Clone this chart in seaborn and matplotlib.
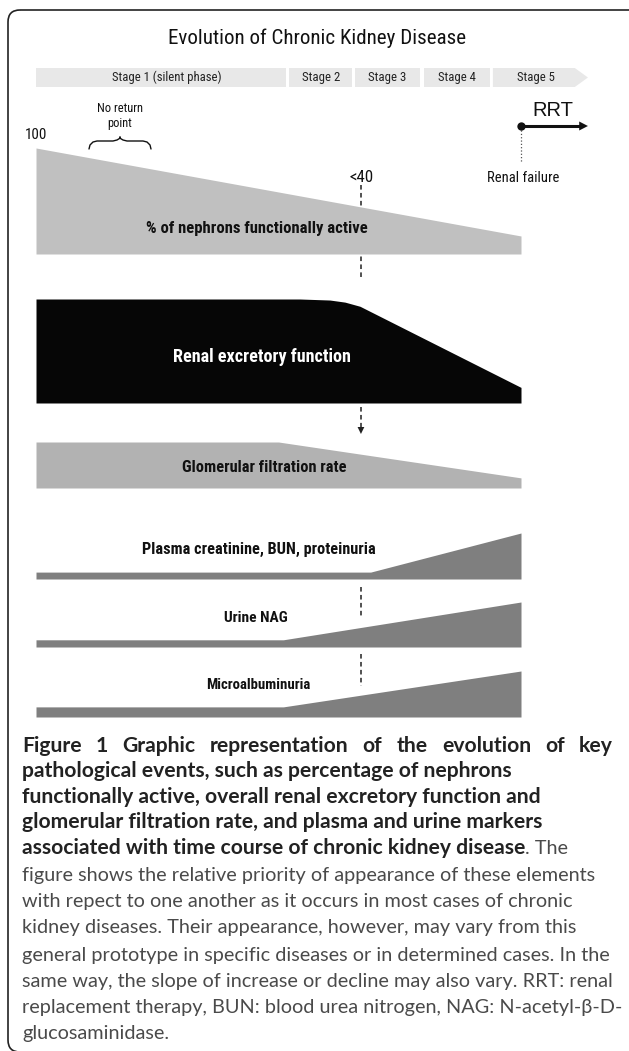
import numpy as np
import matplotlib
matplotlib.use("Agg")
import matplotlib.pyplot as plt
import seaborn as sns
from matplotlib import font_manager
from matplotlib.patches import FancyBboxPatch

# progression axis: 0 = onset, 100 = renal failure
stage_names = ["Stage 1 (silent phase)", "Stage 2", "Stage 3", "Stage 4", "Stage 5"]
stage_start = [0, 52.2, 65.8, 80.0, 94.2]
stage_end = [51.5, 65.2, 79.2, 93.6, 111.1]
stage_tip = 113.8

band_names = ["% of nephrons functionally active", "Renal excretory function",
              "Glomerular filtration rate", "Plasma creatinine, BUN, proteinuria",
              "Urine NAG", "Microalbuminuria"]
nephron_t = [0, 100]
nephron_level = [100, 17]
excretory_t = [0, 54.4, 60.6, 63.7, 66.8, 100]
excretory_level = [100, 100, 99, 97, 93, 15]
gfr_t = [0, 50, 100]
gfr_level = [100, 100, 22]
creatinine_t = [0, 69, 100]
creatinine_level = [15, 15, 100]
nag_t = [0, 51, 100]
nag_level = [16, 16, 100]
micro_t = [0, 51, 100]
micro_level = [22, 22, 100]

threshold_t = 67      # "<40" marker
failure_t = 100       # renal failure / start of RRT
rrt_end_t = 113.8

caption_bold = ["Figure 1 Graphic representation of the evolution of key",
                "pathological events, such as percentage of nephrons",
                "functionally active, overall renal excretory function and",
                "glomerular filtration rate, and plasma and urine markers",
                "associated with time course of chronic kidney disease"]
caption_rest = [". The",
                "figure shows the relative priority of appearance of these elements",
                "with repect to one another as it occurs in most cases of chronic",
                "kidney diseases. Their appearance, however, may vary from this",
                "general prototype in specific diseases or in determined cases. In the",
                "same way, the slope of increase or decline may also vary. RRT: renal",
                "replacement therapy, BUN: blood urea nitrogen, NAG: N-acetyl-\u03b2-D-",
                "glucosaminidase."]

# layout in pixels
W, H = 629, 1051
T0, T1 = 36, 521
band_box = [(148, 254), (299, 403), (442, 488), (533, 579), (602, 647), (671, 717)]
band_colors = ["#c0c0c0", "#060606", "#b2b2b2", "#7f7f7f", "#7f7f7f", "#7f7f7f"]
band_label_xy = [(257, 228), (262, 357), (264, 467), (259, 549), (256, 618), (258, 685)]
band_label_w = [222, 179, 164, 233, 64, 104]

sns.set_theme(style="white")
plt.rcParams["font.family"] = ["Liberation Sans", "DejaVu Sans"]

# the diagram uses a narrow sans; take the best one that is installed
fonts = font_manager.fontManager.ttflist
names = {f.name for f in fonts}
narrow_kw = {"family": "Liberation Sans", "stretch": "normal"}
for cand in ["Liberation Sans Narrow", "Arial Narrow", "Roboto Condensed",
             "Open Sans Condensed", "Noto Sans Condensed"]:
    if cand in names:
        narrow_kw = {"family": cand, "stretch": "normal"}
        break
else:
    for fam in ["Liberation Sans", "Roboto", "Noto Sans", "Open Sans", "DejaVu Sans"]:
        if any(f.name == fam and f.stretch in ("condensed", "semi-condensed") for f in fonts):
            narrow_kw = {"family": fam, "stretch": "condensed"}
            break

fig = plt.figure(figsize=(W / 100, H / 100), dpi=100)
fig.patch.set_facecolor("white")
renderer = fig.canvas.get_renderer()

# timeline layer (x in progression units, y in pixels)
tl = fig.add_axes([T0 / W, 0, (W - T0) / W, 1], zorder=1)
tl.set_xlim(0, 100 * (W - T0) / (T1 - T0))
tl.set_ylim(H, 0)
tl.axis("off")

# stage ribbon
for i, name in enumerate(stage_names):
    x0, x1 = stage_start[i], stage_end[i]
    if i == len(stage_names) - 1:
        tl.fill([x0, x1, stage_tip, x1, x0], [68, 68, 77.5, 87, 87], color="#e8e8e8", lw=0)
    else:
        tl.fill([x0, x1, x1, x0], [68, 68, 87, 87], color="#e8e8e8", lw=0)

# dashed threshold line
for y0, y1 in [(185, 280), (407, 428), (587, 617), (654, 686)]:
    sns.lineplot(x=[threshold_t, threshold_t], y=[y0, y1], estimator=None, sort=False,
                 ax=tl, color="#222222", lw=1.1, dashes=False, linestyle=(0, (3, 2.2)))
tl.fill([threshold_t - 0.7, threshold_t + 0.7, threshold_t], [427, 427, 434], color="#222222", lw=0)

# RRT arrow
sns.lineplot(x=[failure_t, rrt_end_t - 1.6], y=[126, 126], estimator=None, sort=False,
             ax=tl, color="#111111", lw=2.2)
tl.fill([rrt_end_t - 1.8, rrt_end_t, rrt_end_t - 1.8], [121.5, 126, 130.5], color="#111111", lw=0)
tl.scatter([failure_t], [126], s=36, color="#111111", zorder=5, linewidths=0)
tl.plot([failure_t, failure_t], [130, 163], ls=":", lw=0.9, color="#555555")

# bands
series = [(nephron_t, nephron_level), (excretory_t, excretory_level), (gfr_t, gfr_level),
          (creatinine_t, creatinine_level), (nag_t, nag_level), (micro_t, micro_level)]
for (t, lev), (top, bot), col in zip(series, band_box, band_colors):
    bax = fig.add_axes([T0 / W, 1 - bot / H, (T1 - T0) / W, (bot - top) / H], zorder=2)
    bax.set_xlim(0, 100)
    bax.set_ylim(0, 100)
    bax.axis("off")
    bax.patch.set_alpha(0)
    bax.fill_between(t, lev, 0, color=col, lw=0)

# annotation layer in pixels
ax = fig.add_axes([0, 0, 1, 1], zorder=3)
ax.set_xlim(0, W)
ax.set_ylim(H, 0)
ax.axis("off")
ax.patch.set_alpha(0)

frame = FancyBboxPatch((8, 10), 640, 1042, boxstyle="round,pad=0,rounding_size=12",
                       fc="none", ec="#222222", lw=1.2)
ax.add_patch(frame)


def label(x, y, s, width, family, weight="normal", color="#111111", ha="center",
          stretch="normal"):
    t = ax.text(x, y, s, ha=ha, va="center", family=family, weight=weight,
                color=color, fontsize=12, stretch=stretch)
    w = t.get_window_extent(renderer=renderer).width
    t.set_fontsize(12 * width / w)
    return t


label(317, 38, "Evolution of Chronic Kidney Disease", 298, **narrow_kw)
stage_cx = [167, 321, 387, 457, 536]
stage_w = [110, 38, 38, 38, 38]
for name, cx, w in zip(stage_names, stage_cx, stage_w):
    label(cx, 77, name, w, color="#222222", **narrow_kw)
label(120, 108, "No return", 46, **narrow_kw)
label(120, 123, "point", 25, **narrow_kw)
label(36, 135, "100", 22, **narrow_kw)
label(361, 177, "<40", 24, **narrow_kw)
label(553, 111, "RRT", 41, "Liberation Sans")
label(523, 178, "Renal failure", 72, **narrow_kw)

for name, (cx, cy), w, col in zip(band_names, band_label_xy, band_label_w, band_colors):
    label(cx, cy, name, w, weight="bold",
          color="white" if col == "#060606" else "#111111", **narrow_kw)

# brace over "no return point"
bx = np.array([89, 90, 93, 97, 113, 117, 119.5, 120])
by = np.array([149, 145, 142, 141, 141, 140, 138.5, 137])
ax.plot(bx, by, color="#111111", lw=1)
ax.plot(240 - bx, by, color="#111111", lw=1)

# caption
cap_font = ["Lato", "DejaVu Sans"]
line_y = [746, 771, 797, 822, 848, 875, 902, 928, 955, 982, 1008, 1033]
probe = label(22, -50, caption_bold[2], 516, cap_font, weight="bold", ha="left")
bold_size = probe.get_fontsize()
probe.remove()
probe = label(22, -50, caption_rest[1], 571, cap_font, ha="left")
reg_size = probe.get_fontsize()
probe.remove()

# first line is justified across the column
words = caption_bold[0].split()
objs = [ax.text(0, line_y[0], w, ha="left", va="center", family=cap_font, weight="bold",
                fontsize=bold_size, color="#222222") for w in words]
widths = [o.get_window_extent(renderer=renderer).width for o in objs]
gap = (613 - 22 - sum(widths)) / (len(words) - 1)
x = 22
for o, w in zip(objs, widths):
    o.set_x(x)
    x += w + gap

for i in range(1, 5):
    t = ax.text(22, line_y[i], caption_bold[i], ha="left", va="center", family=cap_font,
                weight="bold", fontsize=bold_size, color="#222222")
tw = t.get_window_extent(renderer=renderer).width
ax.text(22 + tw, line_y[4], caption_rest[0], ha="left", va="center", family=cap_font,
        fontsize=reg_size, color="#4a4a4a")
for i, line in enumerate(caption_rest[1:]):
    ax.text(22, line_y[5 + i], line, ha="left", va="center", family=cap_font,
            fontsize=reg_size, color="#4a4a4a")

fig.savefig("out.png", dpi=100, facecolor="white")
